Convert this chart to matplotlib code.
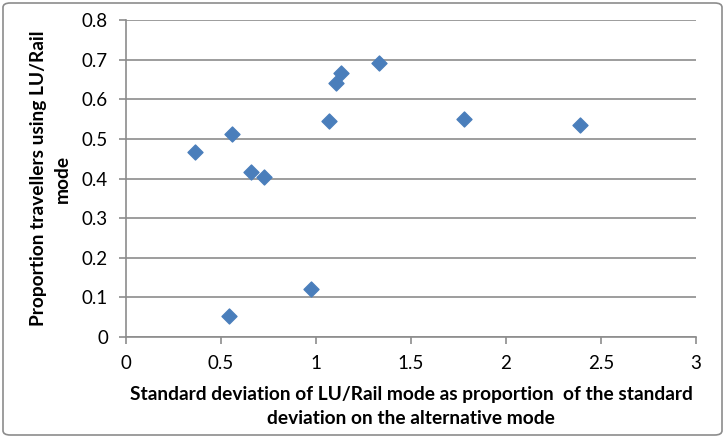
import matplotlib.pyplot as plt
from matplotlib.patches import FancyBboxPatch

# values
sd_ratio = [0.363, 0.559, 0.656, 0.728, 1.070, 1.105, 1.130, 1.330, 1.781, 2.389, 0.542, 0.972]
prop_rail = [0.468, 0.513, 0.417, 0.405, 0.544, 0.642, 0.666, 0.691, 0.550, 0.535, 0.053, 0.121]

plt.rcParams['font.family'] = ['Liberation Sans Narrow', 'Lato', 'DejaVu Sans']

fig = plt.figure(figsize=(7.26, 4.38), dpi=100)
ax = fig.add_axes([126 / 726, 1 - 337 / 438, 570 / 726, 317 / 438])

ax.scatter(sd_ratio, prop_rail, marker='D', s=58, color='#4a7ebb', zorder=3)

ax.set_xlim(0, 3)
ax.set_ylim(0, 0.8)
ax.set_xticks([0, 0.5, 1, 1.5, 2, 2.5, 3])
ax.set_xticklabels(['0', '0.5', '1', '1.5', '2', '2.5', '3'])
ax.set_yticks([0, 0.1, 0.2, 0.3, 0.4, 0.5, 0.6, 0.7, 0.8])
ax.set_yticklabels(['0', '0.1', '0.2', '0.3', '0.4', '0.5', '0.6', '0.7', '0.8'])
ax.grid(axis='y', color='#8c8c8c', linewidth=1.2)
ax.set_axisbelow(True)

for s in ['top', 'right']:
    ax.spines[s].set_visible(False)
for s in ['left', 'bottom']:
    ax.spines[s].set_color('#8c8c8c')
    ax.spines[s].set_linewidth(1.2)
ax.tick_params(colors='#8c8c8c', labelcolor='black', labelsize=13.5, length=5, width=1.2)
ax.tick_params(axis='x', pad=8)
ax.tick_params(axis='y', pad=8)

ax.set_xlabel('Standard deviation of LU/Rail mode as proportion  of the standard\ndeviation on the alternative mode',
              fontsize=13.8, fontweight='bold', labelpad=10, linespacing=1.5)
ax.set_ylabel('Proportion travellers using LU/Rail\nmode', fontsize=13.8, fontweight='bold', labelpad=8,
              linespacing=1.5)

border = FancyBboxPatch((3 / 726, 3 / 438), 719 / 726, 432 / 438, boxstyle='round,pad=0,rounding_size=0.01',
                        transform=fig.transFigure, fill=False, edgecolor='#8c8c8c', linewidth=1.2)
fig.patches.append(border)

fig.savefig('out.png', dpi=100)
